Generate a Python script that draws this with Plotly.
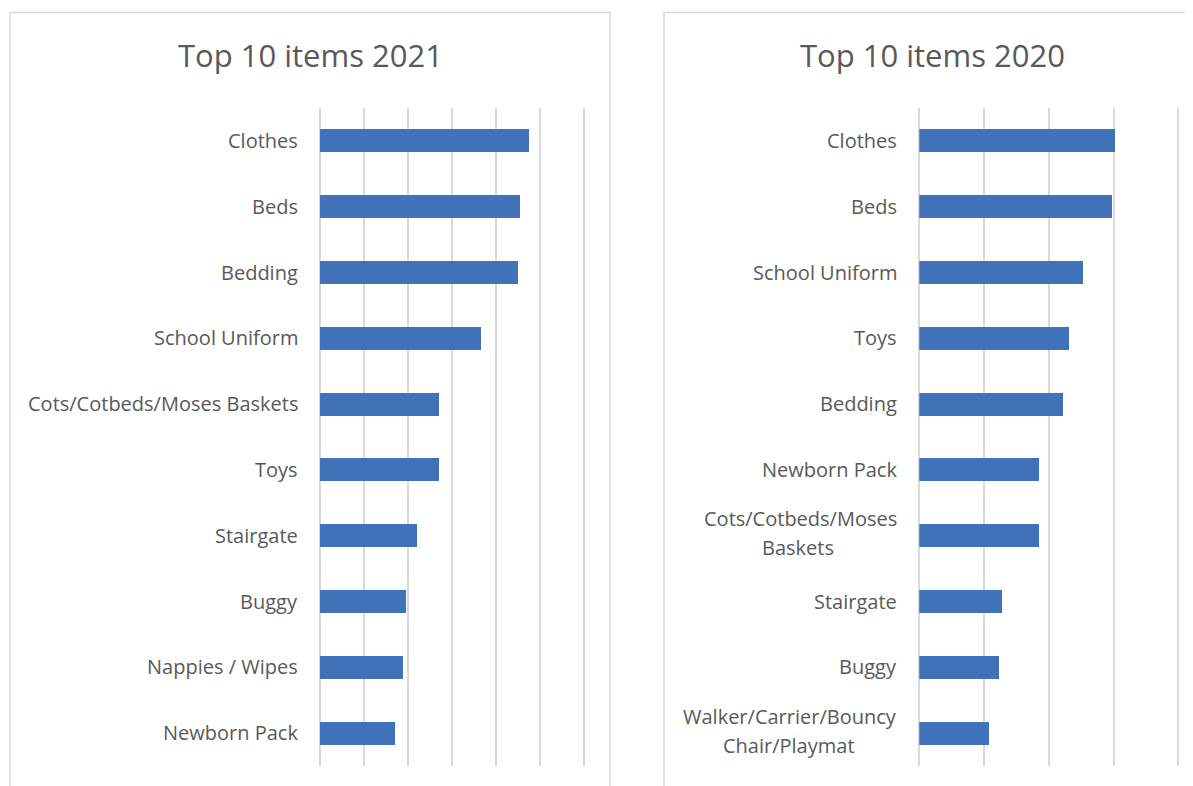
import plotly.graph_objects as go

# ---- data ----
items_2021 = ["Clothes", "Beds", "Bedding", "School Uniform", "Cots/Cotbeds/Moses Baskets",
              "Toys", "Stairgate", "Buggy", "Nappies / Wipes", "Newborn Pack"]
values_2021 = [238, 227, 225, 183, 135, 135, 110, 98, 94, 85]

items_2020 = ["Clothes", "Beds", "School Uniform", "Toys", "Bedding", "Newborn Pack",
              "Cots/Cotbeds/Moses Baskets", "Stairgate", "Buggy",
              "Walker/Carrier/Bouncy Chair/Playmat"]
values_2020 = [303, 298, 253, 232, 223, 185, 185, 128, 123, 108]
# how the long 2020 labels wrap onto two lines
wrapped_2020 = {
    "Cots/Cotbeds/Moses Baskets": ("Cots/Cotbeds/Moses", "Baskets", 121),
    "Walker/Carrier/Bouncy Chair/Playmat": ("Walker/Carrier/Bouncy", "Chair/Playmat", 130),
}

title_2021 = "Top 10 items 2021"
title_2020 = "Top 10 items 2020"

OFF = 8  # page body margin
W, H = 1193 - OFF, 786 - OFF
BAR = "#4072BA"
GRID = "#d9d9d9"
TXT = "#595959"
FONT = "Open Sans"
LBL = 20


def px(x):
    return (x - OFF) / W


def py(y):
    return (H - (y - OFF)) / H


fig = go.Figure()
fig.add_trace(go.Bar(y=items_2021, x=values_2021, orientation="h", width=0.35,
                     marker=dict(color=BAR, line=dict(width=0)), xaxis="x", yaxis="y",
                     hoverinfo="x+y"))
fig.add_trace(go.Bar(y=items_2020, x=values_2020, orientation="h", width=0.35,
                     marker=dict(color=BAR, line=dict(width=0)), xaxis="x2", yaxis="y2",
                     hoverinfo="x+y"))

ax_common = dict(showgrid=True, gridcolor=GRID, gridwidth=1.5, zeroline=True,
                 zerolinecolor=GRID, zerolinewidth=1.5,
                 showticklabels=False, ticks="", showline=False, fixedrange=True)
ay_common = dict(showgrid=False, zeroline=False, showticklabels=False, ticks="",
                 showline=False, autorange="reversed", domain=[py(765.5), py(107.5)],
                 fixedrange=True)

# pixel scale of each value axis (px per unit)
s1 = 264.0 / 300
s2 = 259.0 / 400
fig.update_layout(
    width=W, height=H,
    margin=dict(l=0, r=0, t=0, b=0),
    paper_bgcolor="white", plot_bgcolor="white",
    showlegend=False, bargap=0,
    font=dict(family=FONT, color=TXT),
    xaxis=dict(domain=[px(320), px(320 + 305 * s1)], range=[0, 305], dtick=50, anchor="y", **ax_common),
    yaxis=dict(anchor="x", **ay_common),
    xaxis2=dict(domain=[px(919.3), px(919.3 + 410 * s2)], range=[0, 410], dtick=100, anchor="y2", **ax_common),
    yaxis2=dict(anchor="x2", **ay_common),
)

# category labels
for cat in items_2021:
    fig.add_annotation(x=0, xref="x domain", y=cat, yref="y", text=cat, showarrow=False,
                       xanchor="right", xshift=-20, align="right",
                       font=dict(family=FONT, size=LBL, color=TXT))
for cat in items_2020:
    if cat in wrapped_2020:
        l1, l2, ctr = wrapped_2020[cat]
        fig.add_annotation(x=0, xref="x2 domain", y=cat, yref="y2", text=l1, showarrow=False,
                           xanchor="right", xshift=-20, yshift=16.5,
                           font=dict(family=FONT, size=LBL, color=TXT))
        fig.add_annotation(x=0, xref="x2 domain", y=cat, yref="y2", text=l2, showarrow=False,
                           xanchor="center", xshift=-ctr, yshift=-12.5,
                           font=dict(family=FONT, size=LBL, color=TXT))
    else:
        fig.add_annotation(x=0, xref="x2 domain", y=cat, yref="y2", text=cat, showarrow=False,
                           xanchor="right", xshift=-20,
                           font=dict(family=FONT, size=LBL, color=TXT))

# titles
fig.add_annotation(x=px(311), xref="paper", y=py(55), yref="paper", text=title_2021,
                   showarrow=False, xanchor="center", yanchor="middle",
                   font=dict(family=FONT, size=31, color=TXT))
fig.add_annotation(x=px(932), xref="paper", y=py(55), yref="paper", text=title_2020,
                   showarrow=False, xanchor="center", yanchor="middle",
                   font=dict(family=FONT, size=31, color=TXT))

# chart-area borders
fig.add_shape(type="rect", xref="paper", yref="paper", x0=px(10), x1=px(610),
              y0=-0.05, y1=py(12.5), line=dict(color=GRID, width=1.5), layer="below")
fig.add_shape(type="rect", xref="paper", yref="paper", x0=px(664), x1=1.05,
              y0=-0.05, y1=py(12.5), line=dict(color=GRID, width=1.5), layer="below")

fig.write_html("out.html", config={"displayModeBar": False})
